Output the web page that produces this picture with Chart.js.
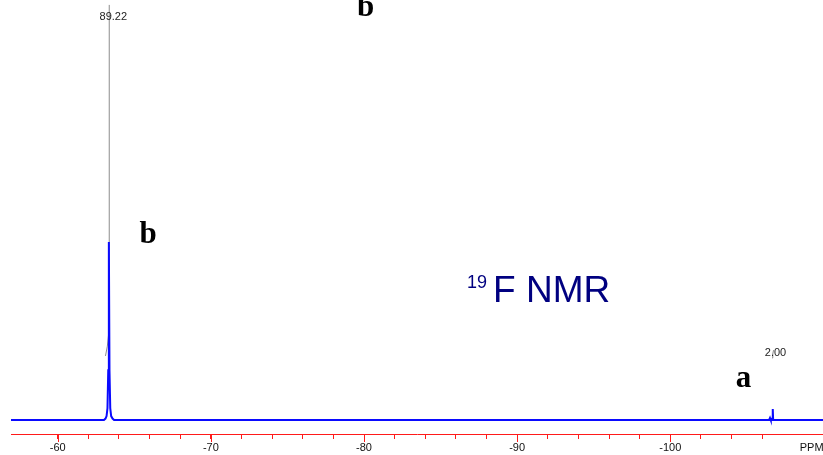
<!DOCTYPE html>
<html>
<head>
<meta charset="utf-8">
<script src="https://cdn.jsdelivr.net/npm/chart.js@4.4.0/dist/chart.umd.min.js"></script>
<style>
  html, body { margin: 0; padding: 0; background: #ffffff; }
  #wrap { width: 823px; height: 455px; }
</style>
</head>
<body>
<div id="wrap"><canvas id="nmr" width="823" height="455"></canvas></div>
<script>
// 19F spectrum trace: chemical shift (ppm) and relative intensity
const shiftPpm  = [-56.95, -63.02, -63.12, -63.19, -63.25, -63.30, -63.34, -63.38, -63.43, -63.49, -63.58, -63.68,
                   -106.45, -106.51, -106.56, -106.665, -106.69, -106.715, -109.97];
const intensity = [0, 0, 0.8, 2.2, 6.7, 28, 100, 28, 6.7, 2.2, 0.8, 0,
                   0, 1.2, 0, 0, 6.2, 0, 0];

// Integral traces (running area) for the two signals
const integralAPpm  = [-63.12, -63.24, -63.35, -63.36, -63.37];
const integralAArea = [0, 2.5, 6.5, 60, 89.22];
const integralBPpm  = [-106.64, -106.69, -106.74];
const integralBArea = [0, 1.0, 2.00];

// Axis labelling
const majorTicks = [-60, -70, -80, -90, -100];
const axisUnit = 'PPM';

// Peak assignments and nucleus label
const peakLetters = ['b', 'b', 'a'];
const letterPpm   = [-65.9, -80.1, -104.78];
const letterLevel = [99.4, 227, 18.5];
const nucleusMass = '19';
const nucleusText = 'F NMR';

// ---- layout / style ----
const X_MIN = -109.97, X_MAX = -56.95;
const Y_MIN = -7.87, Y_MAX = 235.96;
const INT_MAX = 110.3;
const INTEGRAL_BASE = [19.83, 19.32];
const INTEGRAL_LABEL_SHIFT = [[4, 12], [2, 3]];
const RED = '#ff1a1a';

function integralPoints(ppm, area, base) {
  return ppm.map((p, i) => ({ x: p, y: base + area[i] }));
}

const decorations = {
  id: 'decorations',
  afterDraw(chart) {
    const ctx = chart.ctx;
    const xs = chart.scales.x, ys = chart.scales.y, yi = chart.scales.yInt;
    const axisY = chart.chartArea.bottom;
    ctx.save();

    // longer marks at the labelled ticks
    ctx.strokeStyle = RED;
    ctx.lineWidth = 1;
    majorTicks.forEach(v => {
      const px = Math.round(xs.getPixelForValue(v)) + 0.5;
      ctx.beginPath();
      ctx.moveTo(px, axisY);
      ctx.lineTo(px, axisY + 8);
      ctx.stroke();
    });

    // unit label at the right end of the axis
    ctx.fillStyle = '#111111';
    ctx.font = '11px "Liberation Sans", Arial, sans-serif';
    ctx.textAlign = 'left';
    ctx.textBaseline = 'middle';
    ctx.fillText(axisUnit, xs.getPixelForValue(-108.45), axisY + 13.6);

    // integral values above their traces
    const integrals = [[integralAPpm, integralAArea], [integralBPpm, integralBArea]];
    ctx.fillStyle = '#222222';
    ctx.textAlign = 'center';
    integrals.forEach(([ppm, area], k) => {
      const last = area.length - 1;
      const px = xs.getPixelForValue(ppm[last]) + INTEGRAL_LABEL_SHIFT[k][0];
      const py = yi.getPixelForValue(INTEGRAL_BASE[k] + area[last]) + INTEGRAL_LABEL_SHIFT[k][1];
      ctx.fillText(area[last].toFixed(2), px, py);
    });

    // peak assignment letters
    ctx.fillStyle = '#000000';
    ctx.font = 'bold 31px "Liberation Serif", "Times New Roman", serif';
    ctx.textAlign = 'center';
    ctx.textBaseline = 'alphabetic';
    peakLetters.forEach((t, i) => {
      ctx.fillText(t, xs.getPixelForValue(letterPpm[i]), ys.getPixelForValue(letterLevel[i]));
    });

    // nucleus label with superscript mass number
    const nx = xs.getPixelForValue(-86.73);
    const ny = ys.getPixelForValue(66.3);
    ctx.fillStyle = '#000080';
    ctx.textAlign = 'left';
    ctx.font = '18px "Liberation Sans", Arial, sans-serif';
    ctx.fillText(nucleusMass, nx, ny - 14);
    const w = ctx.measureText(nucleusMass).width;
    ctx.font = '37px "Liberation Sans", Arial, sans-serif';
    ctx.fillText(nucleusText, nx + w + 6, ny);

    ctx.restore();
  }
};

new Chart(document.getElementById('nmr'), {
  type: 'line',
  data: {
    datasets: [
      {
        label: 'spectrum',
        data: shiftPpm.map((p, i) => ({ x: p, y: intensity[i] })),
        borderColor: '#0a0aff',
        borderWidth: 2,
        yAxisID: 'y',
        order: 0
      },
      {
        label: 'integral A',
        data: integralPoints(integralAPpm, integralAArea, INTEGRAL_BASE[0]),
        borderColor: '#8c8c8c',
        borderWidth: 1,
        yAxisID: 'yInt',
        order: 1
      },
      {
        label: 'integral B',
        data: integralPoints(integralBPpm, integralBArea, INTEGRAL_BASE[1]),
        borderColor: '#8c8c8c',
        borderWidth: 1,
        yAxisID: 'yInt',
        order: 1
      }
    ]
  },
  options: {
    responsive: false,
    devicePixelRatio: 1,
    animation: false,
    layout: { padding: { left: 11, right: 0, top: 0, bottom: 0 } },
    elements: { point: { radius: 0 }, line: { tension: 0 } },
    plugins: { legend: { display: false }, tooltip: { enabled: false } },
    scales: {
      x: {
        type: 'linear',
        reverse: true,
        min: X_MIN,
        max: X_MAX,
        afterBuildTicks: s => {
          s.ticks = s.ticks.filter(t => Math.abs(Math.round(t.value) - t.value) < 1e-6 && Math.round(t.value) % 2 === 0);
        },
        afterFit: s => { s.height = 21; },
        border: { display: true, color: RED, width: 1 },
        grid: { drawOnChartArea: false, drawTicks: true, tickLength: 5, tickColor: RED, tickWidth: 1 },
        ticks: {
          stepSize: 2,
          autoSkip: false,
          maxRotation: 0,
          padding: 2,
          color: '#111111',
          font: { family: '"Liberation Sans", Arial, sans-serif', size: 11 },
          callback: v => majorTicks.includes(Math.round(v)) ? String(Math.round(v)) : ''
        }
      },
      y: { display: false, min: Y_MIN, max: Y_MAX },
      yInt: { display: false, min: 0, max: INT_MAX }
    }
  },
  plugins: [decorations]
});
</script>
</body>
</html>
